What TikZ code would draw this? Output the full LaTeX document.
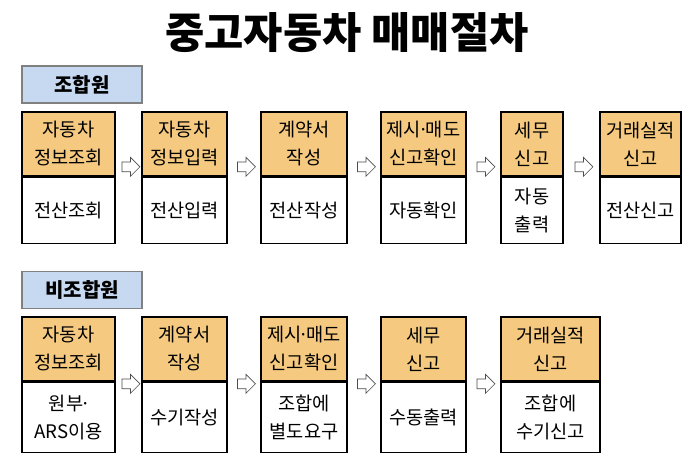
\documentclass[tikz,border=0pt]{standalone}
\usepackage{fontspec}
\setmainfont{Noto Sans CJK KR}
\usetikzlibrary{positioning,shapes.arrows,calc}
\definecolor{headfill}{RGB}{245,202,128}
\definecolor{tagfill}{RGB}{198,217,240}
\newcommand\mdot{\kern-0.15em·\kern-0.15em}
\begin{document}
\begin{tikzpicture}[x=0.75pt,y=-0.75pt,
  txt/.style={align=center,inner sep=0pt,font=\fontsize{14}{21}\selectfont},
  head/.style={txt,draw,line width=1.2pt,fill=headfill,minimum height=48pt},
  body/.style={txt,draw,line width=1.2pt,fill=white,minimum height=49.5pt},
  tag/.style={draw=black!50,line width=0.9pt,fill=tagfill,minimum width=90pt,minimum height=27.75pt,font=\bfseries\fontsize{15}{18}\selectfont},
  go/.style={single arrow,draw=black!70,fill=white,line width=0.5pt,minimum height=13.5pt,minimum width=13.5pt,inner sep=3.4pt,single arrow head extend=3.4pt}]
  \useasboundingbox (0,0) rectangle (700,467);
  \node[font=\bfseries\fontsize{32}{36}\selectfont] (title) at (347,33) {중고자동차 매매절차};
  \node[tag] (t1) at (82,84.5) {조합원};
  \node[tag] (t2) at (82,290) {비조합원};
  \node[head,minimum width=69.75pt] (a1) at (68.5,144) {자동차\\정보조회};
  \node[head,minimum width=63.75pt] (a2) at (184.5,144) {자동차\\정보입력};
  \node[head,minimum width=64.5pt] (a3) at (304,144) {계약서\\작성};
  \node[head,minimum width=63.75pt] (a4) at (423.5,144) {제시\mdot 매도\\신고확인};
  \node[head,minimum width=46.5pt] (a5) at (532,144) {세무\\신고};
  \node[head,minimum width=60.75pt] (a6) at (640.5,144) {거래실적\\신고};
  \node[body,minimum width=69.75pt,below=0pt of a1] (p1) {전산조회};
  \node[body,minimum width=63.75pt,below=0pt of a2] (p2) {전산입력};
  \node[body,minimum width=64.5pt,below=0pt of a3] (p3) {전산작성};
  \node[body,minimum width=63.75pt,below=0pt of a4] (p4) {자동확인};
  \node[body,minimum width=46.5pt,below=0pt of a5] (p5) {자동\\출력};
  \node[body,minimum width=60.75pt,below=0pt of a6] (p6) {전산신고};
  \node[head,minimum width=69.75pt] (b1) at (68.5,349) {자동차\\정보조회};
  \node[head,minimum width=63.75pt] (b2) at (184.5,349) {계약서\\작성};
  \node[head,minimum width=64.5pt] (b3) at (304,349) {제시\mdot 매도\\신고확인};
  \node[head,minimum width=63.75pt] (b4) at (423.5,349) {세무\\신고};
  \node[head,minimum width=74.25pt] (b5) at (550.5,349) {거래실적\\신고};
  \node[body,minimum width=69.75pt,minimum height=52.5pt,below=0pt of b1] (q1) {원부\mdot\\ARS이용};
  \node[body,minimum width=63.75pt,minimum height=52.5pt,below=0pt of b2] (q2) {수기작성};
  \node[body,minimum width=64.5pt,minimum height=52.5pt,below=0pt of b3] (q3) {조합에\\별도요구};
  \node[body,minimum width=63.75pt,minimum height=52.5pt,below=0pt of b4] (q4) {수동출력};
  \node[body,minimum width=74.25pt,minimum height=52.5pt,below=0pt of b5] (q5) {조합에\\수기신고};
  \foreach \u/\v [count=\i] in {a1/a2,a2/a3,a3/a4,a4/a5,a5/a6}
    \node[go] (ga\i) at ($(\u.south east)!0.5!(\v.south west)+(0,-10)$) {};
  \foreach \u/\v [count=\i] in {b1/b2,b2/b3,b3/b4,b4/b5}
    \node[go] (gb\i) at ($(\u.south east)!0.5!(\v.south west)+(0,2)$) {};
\end{tikzpicture}
\end{document}
